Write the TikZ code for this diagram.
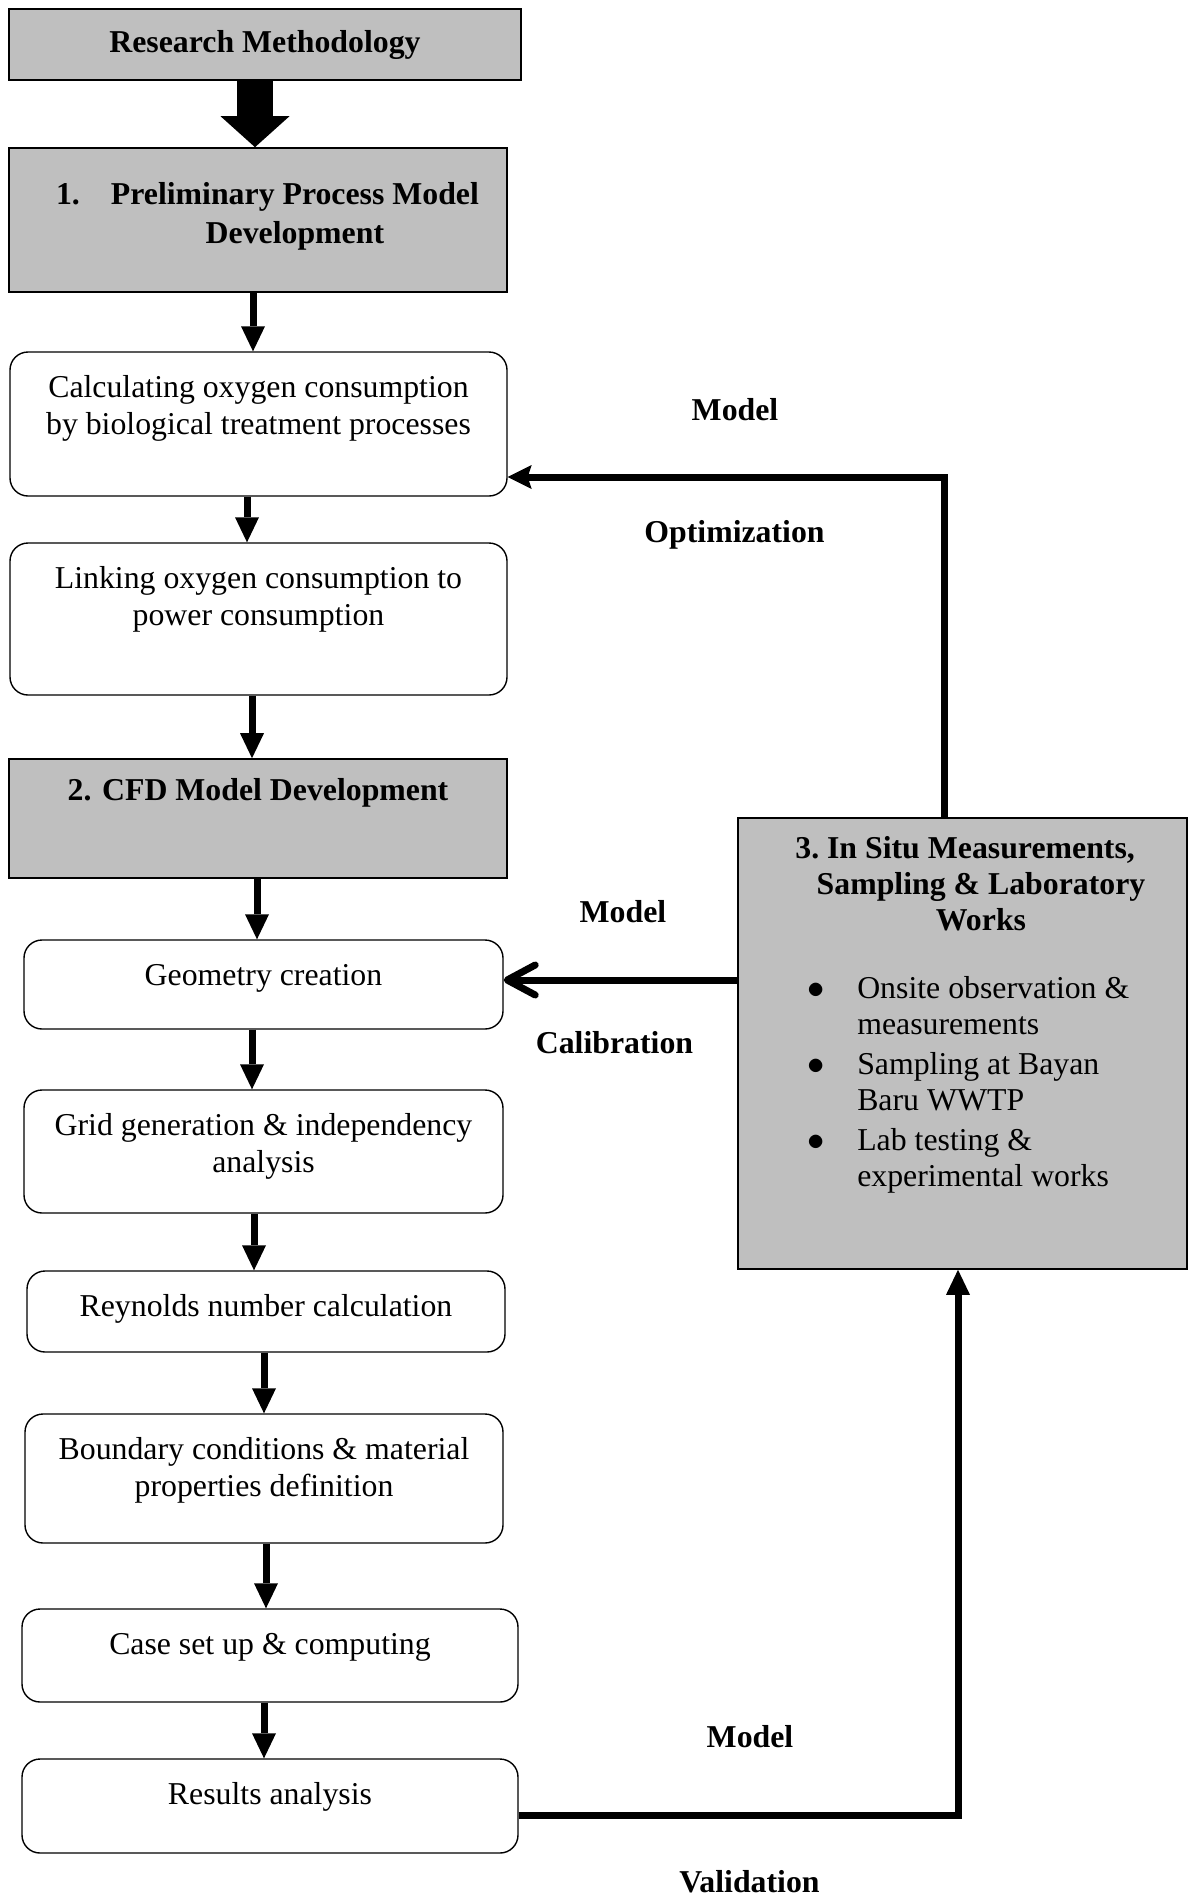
\documentclass[tikz,border=0pt]{standalone}
\usepackage{fontspec}
\setmainfont{Liberation Serif}
\usetikzlibrary{arrows.meta}

\newcommand{\boxtext}[3]{\parbox[t][#2][t]{#1}{\centering\strut #3}}

\tikzset{
    stepbox/.style = {draw = black, rounded corners = 9pt, line width = 0.7pt, inner xsep = 0pt, inner ysep = 10pt},
    phasebox/.style = {draw = black, fill = black!25, line width = 0.8pt, inner xsep = 0pt},
    flow/.style = {line width = 3.5pt, -{Triangle[width = 12pt, length = 12.5pt, line width = 0pt]}},
    tag/.style = {anchor = base, font = \fontsize{15.9}{18.5}\selectfont\bfseries}
}

\begin{document}
\begin{tikzpicture}[x = 0.5pt, y = -0.5pt, font = \fontsize{15.9}{18.5}\selectfont]
    \useasboundingbox (0,0) rectangle (1190,1896);

    % Draw the phase headings:
    \node [phasebox, minimum width = 256pt, minimum height = 35.5pt, font = \fontsize{15.9}{18.5}\selectfont\bfseries] (meth) at (265,44.7) {Research Methodology};
    \node [phasebox, inner ysep = 14.35pt] (prelim) at (258,220)
        {\boxtext{249pt}{43.3pt}{\bfseries\fontsize{15.9}{19.5}\selectfont\hspace*{9.5pt}\begin{tabular}[t]{@{}l@{\hspace{15.5pt}}c@{}}1. & Preliminary Process Model\\ & Development\end{tabular}}};
    \node [phasebox, inner ysep = 8pt] (cfd) at (258,818.5)
        {\boxtext{249pt}{43.5pt}{\bfseries 2. CFD Model Development}};

    % Draw the process steps:
    \node [stepbox] (calc) at (258.5,424) {\boxtext{248.5pt}{52pt}{Calculating oxygen consumption\\by biological treatment processes}};
    \node [stepbox] (link) at (258.5,619) {\boxtext{248.5pt}{56pt}{Linking oxygen consumption to\\power consumption}};
    \node [stepbox] (geom) at (263.5,984.5) {\boxtext{239.5pt}{24.5pt}{Geometry creation}};
    \node [stepbox] (grid) at (263.5,1151.5) {\boxtext{239.5pt}{41.5pt}{Grid generation \& independency\\analysis}};
    \node [stepbox] (reyn) at (266,1311.5) {\boxtext{239pt}{20.5pt}{Reynolds number calculation}};
    \node [stepbox] (bound) at (264,1478.5) {\boxtext{239pt}{44.5pt}{Boundary conditions \& material\\properties definition}};
    \node [stepbox] (case) at (270,1655.5) {\boxtext{248pt}{26.5pt}{Case set up \& computing}};
    \node [stepbox] (result) at (270,1806) {\boxtext{248pt}{27pt}{Results analysis}};

    % Draw the field work box:
    \node [phasebox, inner ysep = 7.5pt] (insitu) at (962.5,1043.5)
        {\boxtext{224.5pt}{210.5pt}{\fontsize{15.9}{18}\selectfont
            {\bfseries\hspace*{18.5pt}\begin{tabular}[t]{@{}c@{}}\llap{3.\ }In Situ Measurements,\\ Sampling \& Laboratory\\ Works\end{tabular}\par}
            \vspace{15pt}\raggedright
            \hspace*{34.5pt}\begin{tabular}[t]{@{}l@{\hspace{16.5pt}}l@{}}
                $\bullet$ & Onsite observation \&\\ & measurements\\[2pt]
                $\bullet$ & Sampling at Bayan\\ & Baru WWTP\\[2pt]
                $\bullet$ & Lab testing \&\\ & experimental works
            \end{tabular}}};

    % Draw the arrows down the steps:
    \draw [line width = 18pt, -{Triangle[width = 34.5pt, length = 15.5pt, line width = 0pt]}] (meth.south -| 255,0) -- (prelim.north -| 255,0);
    \foreach \from/\to/\x in {prelim/calc/253, calc/link/247, link/cfd/252, cfd/geom/257, geom/grid/252,
                              grid/reyn/254, reyn/bound/264, bound/case/266, case/result/264}
        \draw [flow] (\from.south -| \x,0) -- (\to.north -| \x,0);

    % Draw the feedback loops:
    \draw [line width = 3.5pt, -{Stealth[width = 12pt, length = 12pt, inset = 2pt, line width = 0pt]}] (insitu.north -| 944,0) |- (calc.east |- 0,477);
    \draw [line width = 3.5pt, -{Straight Barb[width = 15pt, length = 14pt, round]}] (insitu.west |- 0,980) -- (geom.east |- 0,980);
    \draw [flow] (result.east |- 0,1815) -| (insitu.south -| 958,0);

    \node [tag] (optmodel) at (735,420) {Model};
    \node [tag] (opt) at (734.5,542) {Optimization};
    \node [tag] (calmodel) at (623,922) {Model};
    \node [tag] (cal) at (614.5,1053) {Calibration};
    \node [tag] (valmodel) at (750,1747) {Model};
    \node [tag] (val) at (749.5,1892) {Validation};
\end{tikzpicture}
\end{document}
